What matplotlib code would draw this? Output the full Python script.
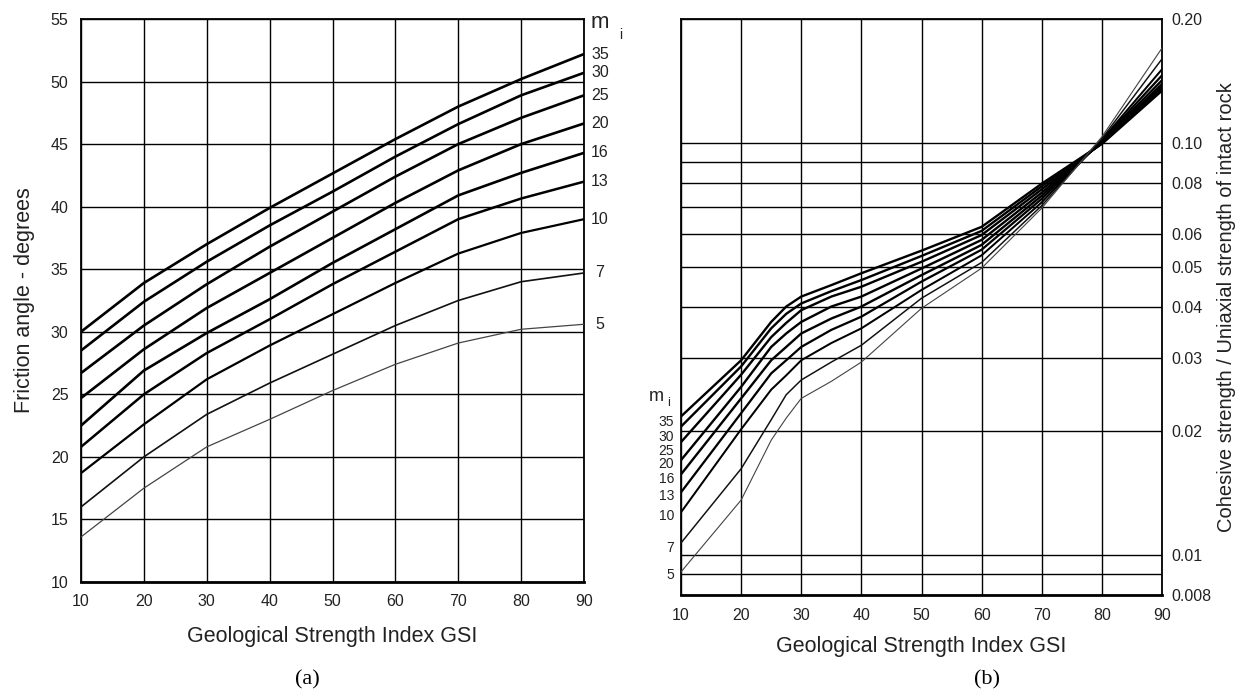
import numpy as np
import matplotlib.pyplot as plt
from matplotlib.ticker import FixedLocator, FixedFormatter, NullLocator

plt.rcParams['font.family'] = ['Liberation Sans', 'DejaVu Sans']

# ---- (a) friction angle vs GSI
gsi_a = [10, 20, 30, 40, 50, 60, 70, 80, 90]
mi_values = [35, 30, 25, 20, 16, 13, 10, 7, 5]
phi_mi35 = [30.0, 33.9, 37.0, 39.9, 42.65, 45.4, 48.0, 50.2, 52.2]
phi_mi30 = [28.5, 32.4, 35.6, 38.5, 41.2, 44.0, 46.6, 48.9, 50.7]
phi_mi25 = [26.7, 30.5, 33.8, 36.8, 39.6, 42.4, 45.0, 47.1, 48.9]
phi_mi20 = [24.7, 28.6, 31.9, 34.7, 37.5, 40.3, 42.9, 45.0, 46.65]
phi_mi16 = [22.5, 26.9, 29.9, 32.6, 35.5, 38.2, 40.9, 42.7, 44.3]
phi_mi13 = [20.8, 25.0, 28.3, 31.0, 33.8, 36.4, 39.0, 40.65, 42.0]
phi_mi10 = [18.7, 22.6, 26.2, 28.9, 31.4, 33.9, 36.25, 37.9, 39.0]
phi_mi7 = [16.0, 20.0, 23.4, 25.9, 28.2, 30.5, 32.5, 34.0, 34.7]
phi_mi5 = [13.6, 17.5, 20.8, 23.0, 25.3, 27.4, 29.1, 30.2, 30.6]

# ---- (b) cohesive strength / UCS vs GSI
gsi_b = [10, 20, 25, 27.5, 30, 35, 40, 50, 60, 70, 80, 90]
coh_mi35 = [0.0217, 0.0297, 0.0368, 0.0401, 0.0424, 0.0452, 0.0483, 0.0548, 0.0626, 0.0797, 0.0995, 0.134]
coh_mi30 = [0.0205, 0.0287, 0.0355, 0.0385, 0.0408, 0.0437, 0.0465, 0.0532, 0.0612, 0.0785, 0.0998, 0.1355]
coh_mi25 = [0.0188, 0.0274, 0.0338, 0.0366, 0.0393, 0.0424, 0.0448, 0.0515, 0.0598, 0.0772, 0.1000, 0.137]
coh_mi20 = [0.0170, 0.0256, 0.0320, 0.0345, 0.0368, 0.0401, 0.0424, 0.0496, 0.0582, 0.0758, 0.1004, 0.139]
coh_mi16 = [0.0157, 0.0240, 0.0297, 0.0320, 0.0345, 0.0375, 0.0401, 0.0478, 0.0566, 0.0745, 0.1008, 0.142]
coh_mi13 = [0.0142, 0.0221, 0.0276, 0.0297, 0.0320, 0.0352, 0.0379, 0.0461, 0.0551, 0.0732, 0.1013, 0.146]
coh_mi10 = [0.0127, 0.0202, 0.0252, 0.0273, 0.0297, 0.0327, 0.0355, 0.0440, 0.0534, 0.0718, 0.1018, 0.151]
coh_mi7 = [0.0107, 0.0162, 0.0213, 0.0245, 0.0266, 0.0294, 0.0323, 0.0420, 0.0513, 0.0705, 0.1025, 0.160]
coh_mi5 = [0.0091, 0.0136, 0.0190, 0.0215, 0.0240, 0.0264, 0.0294, 0.0397, 0.0497, 0.0695, 0.1035, 0.170]

coh_grid = [0.008, 0.009, 0.01, 0.02, 0.03, 0.04, 0.05, 0.06, 0.07, 0.08, 0.09, 0.1, 0.2]
coh_ticklabels = ['0.008', '', '0.01', '0.02', '0.03', '0.04', '0.05', '0.06', '', '0.08', '', '0.10', '0.20']

phi_curves = [phi_mi35, phi_mi30, phi_mi25, phi_mi20, phi_mi16, phi_mi13, phi_mi10, phi_mi7, phi_mi5]
coh_curves = [coh_mi35, coh_mi30, coh_mi25, coh_mi20, coh_mi16, coh_mi13, coh_mi10, coh_mi7, coh_mi5]
widths = [1.9, 1.9, 1.9, 1.9, 1.9, 1.8, 1.6, 1.2, 0.9]
colors = ['k'] * 7 + ['#111111', '#444444']
# vertical nudges (pixels) of the mi labels on the left of panel (b)
lab_dy = [-6, -10, -9, -4, -5, -4, -4, -5, -3]

TICK = 11.5
LAB = 15.5
txtc = '#222222'

fig = plt.figure(figsize=(12.37, 6.94), dpi=100)
ax1 = fig.add_axes([81 / 1237, 1 - 582 / 694, 503 / 1237, 563 / 694])
ax2 = fig.add_axes([681 / 1237, 1 - 595 / 694, 481 / 1237, 576 / 694])

# panel (a)
for y, m, lw, c in zip(phi_curves, mi_values, widths, colors):
    ax1.plot(gsi_a, y, color=c, lw=lw, zorder=3)
    ax1.annotate(str(m), xy=(1, y[-1]), xycoords=('axes fraction', 'data'),
                 xytext=(16, 0), textcoords='offset pixels', ha='center', va='center',
                 fontsize=TICK, color=txtc, annotation_clip=False)
ax1.annotate('m', xy=(1, 1), xycoords='axes fraction', xytext=(16, -4), textcoords='offset pixels',
             ha='center', va='center', fontsize=16, color=txtc)
ax1.annotate('i', xy=(1, 1), xycoords='axes fraction', xytext=(37, -16), textcoords='offset pixels',
             ha='center', va='center', fontsize=10, color=txtc)
ax1.set_xlim(10, 90)
ax1.set_ylim(10, 55)
ax1.set_xticks(range(10, 91, 10))
ax1.set_yticks(range(10, 56, 5))
ax1.grid(True, color='k', lw=1.0)
ax1.tick_params(length=0, labelsize=TICK, labelcolor=txtc, pad=9)
ax1.set_xlabel('Geological Strength Index GSI', fontsize=LAB, color=txtc, labelpad=12)
ax1.set_ylabel('Friction angle - degrees', fontsize=LAB, color=txtc, labelpad=11)

# panel (b)
for y, m, lw, c, dy in zip(coh_curves, mi_values, widths, colors, lab_dy):
    ax2.plot(gsi_b, y, color=c, lw=lw * 0.9, zorder=3)
    ax2.annotate(str(m), xy=(0, y[0]), xycoords=('axes fraction', 'data'),
                 xytext=(-7, dy), textcoords='offset pixels', ha='right', va='center',
                 fontsize=10, color=txtc, annotation_clip=False)
ax2.annotate('m', xy=(0, coh_mi35[0]), xycoords=('axes fraction', 'data'), xytext=(-17, 20),
             textcoords='offset pixels', ha='right', va='center', fontsize=13, color=txtc,
             annotation_clip=False)
ax2.annotate('i', xy=(0, coh_mi35[0]), xycoords=('axes fraction', 'data'), xytext=(-12, 13),
             textcoords='offset pixels', ha='center', va='center', fontsize=9, color=txtc,
             annotation_clip=False)
ax2.set_yscale('log')
ax2.set_xlim(10, 90)
ax2.set_ylim(0.008, 0.2)
ax2.set_xticks(range(10, 91, 10))
ax2.yaxis.set_major_locator(FixedLocator(coh_grid))
ax2.yaxis.set_major_formatter(FixedFormatter(coh_ticklabels))
ax2.yaxis.set_minor_locator(NullLocator())
ax2.yaxis.tick_right()
ax2.yaxis.set_label_position('right')
ax2.grid(True, color='k', lw=1.0)
ax2.tick_params(length=0, labelsize=TICK, labelcolor=txtc)
ax2.tick_params(axis='x', pad=9)
ax2.tick_params(axis='y', pad=7)
ax2.set_xlabel('Geological Strength Index GSI', fontsize=LAB, color=txtc, labelpad=10)
ax2.set_ylabel('Cohesive strength / Uniaxial strength of intact rock', fontsize=14.5,
               color=txtc, labelpad=4)

for ax in (ax1, ax2):
    for s in ax.spines.values():
        s.set_linewidth(1.3)
    ax.spines['bottom'].set_linewidth(2.0)

fig.text(307 / 1237, 1 - 680 / 694, '(a)', family=['Liberation Serif', 'DejaVu Serif'],
         fontsize=16, ha='center', va='center')
fig.text(987 / 1237, 1 - 680 / 694, '(b)', family=['Liberation Serif', 'DejaVu Serif'],
         fontsize=16, ha='center', va='center')

fig.savefig('out.png', dpi=100)
